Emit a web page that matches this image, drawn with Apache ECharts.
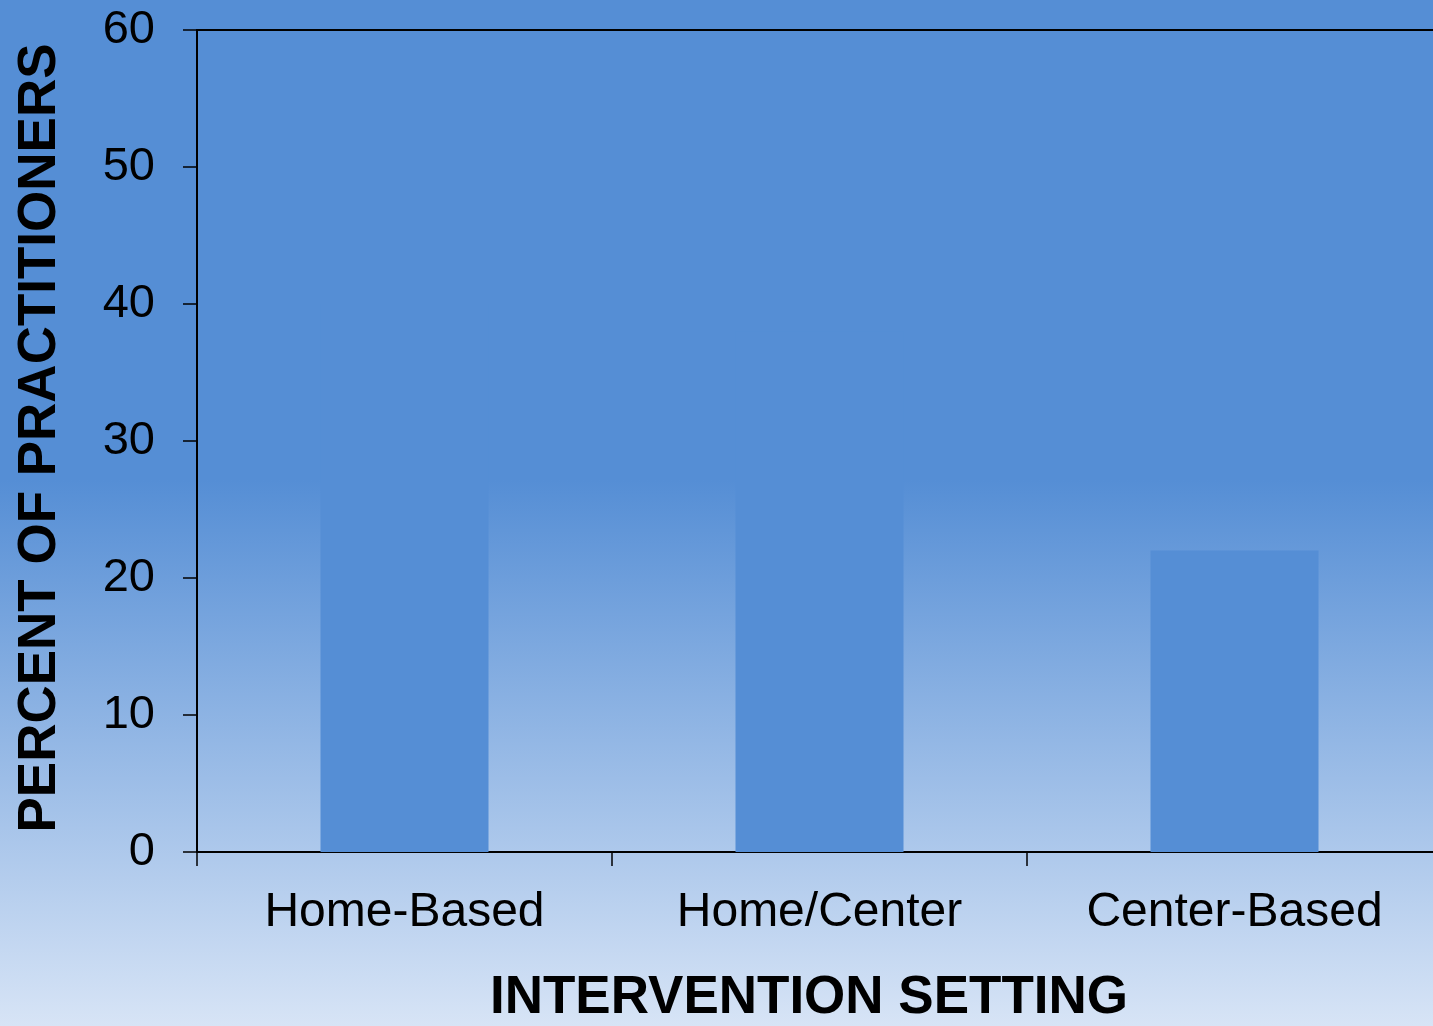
<!DOCTYPE html>
<html>
<head>
<meta charset="utf-8">
<script src="https://cdn.jsdelivr.net/npm/echarts@6/dist/echarts.min.js"></script>
<style>
html,body{margin:0;padding:0;}
#chart{width:1433px;height:1026px;}
</style>
</head>
<body>
<div id="chart"></div>
<script>
const categories = ['Home-Based', 'Home/Center', 'Center-Based'];
const percentValues = [40, 38, 22];
const yTicks = [0, 10, 20, 30, 40, 50, 60];
const xTitle = 'INTERVENTION SETTING';
const yTitle = 'PERCENT OF PRACTITIONERS';

const chart = echarts.init(document.getElementById('chart'));
const font = '"Liberation Sans", Arial, sans-serif';
chart.setOption({
  animation: false,
  backgroundColor: {
    type: 'linear', x: 0, y: 0, x2: 0, y2: 1,
    colorStops: [
      { offset: 0, color: '#558ED5' },
      { offset: 0.468, color: '#558ED5' },
      { offset: 1, color: '#D7E4F6' }
    ]
  },
  grid: {
    left: 197, top: 30, width: 1245, height: 822,
    outerBoundsMode: 'none',
    show: true, borderColor: '#000', borderWidth: 2, backgroundColor: 'transparent'
  },
  xAxis: {
    type: 'category',
    data: categories,
    axisLine: { lineStyle: { color: '#000', width: 2 } },
    axisTick: { show: true, length: 14, lineStyle: { color: '#000', width: 1.5 } },
    axisLabel: { color: '#000', fontSize: 48, fontFamily: font, margin: 37 },
    splitLine: { show: false }
  },
  yAxis: {
    type: 'value',
    min: yTicks[0], max: yTicks[yTicks.length - 1], interval: 10,
    axisLine: { show: true, lineStyle: { color: '#000', width: 2 } },
    axisTick: { show: true, length: 14, lineStyle: { color: '#000', width: 1.5 } },
    axisLabel: { color: '#000', fontSize: 47, fontFamily: font, margin: 42 },
    splitLine: { show: false }
  },
  series: [{
    type: 'bar',
    data: percentValues,
    barWidth: 168,
    itemStyle: { color: '#558ED5' }
  }],
  graphic: [
    {
      type: 'text', x: 809, y: 998,
      style: { text: xTitle, fill: '#000', font: 'bold 53px ' + font, textAlign: 'center', textVerticalAlign: 'middle' }
    },
    {
      type: 'text', x: 40, y: 438, rotation: Math.PI / 2,
      style: { text: yTitle, fill: '#000', font: 'bold 53px ' + font, textAlign: 'center', textVerticalAlign: 'middle' }
    }
  ]
});
</script>
</body>
</html>
